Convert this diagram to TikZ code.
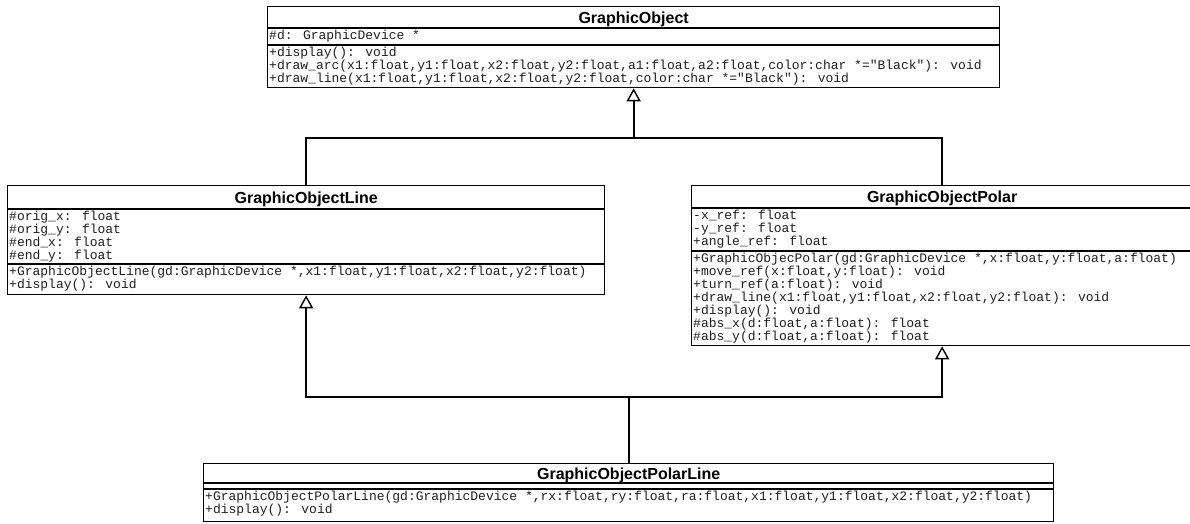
\documentclass[tikz,border=0pt]{standalone}
\usepackage{fontspec}
\setmainfont{Liberation Sans}
\newfontfamily\umlmono{Liberation Mono}
\usetikzlibrary{arrows.meta,calc}

\begin{document}
\begin{tikzpicture}[x=1pt,y=-1pt,
  classbox/.style={draw, line width=1.3pt, inner sep=0pt, anchor=north west, fill=white},
  sepline/.style={line width=1.3pt},
  member/.style={anchor=base west, inner sep=0pt, text=black!88, font={\umlmono\fontsize{13pt}{13pt}\selectfont}},
  classname/.style={anchor=base, inner sep=0pt, font={\bfseries\fontsize{16pt}{16pt}\selectfont}},
  wire/.style={line width=1.7pt},
  inherit/.style={line width=1.7pt, -{Triangle[length=13pt,width=14pt,fill=white,line width=1.4pt]}}
]
\path[use as bounding box, fill=white] (0,0) rectangle (1190,523);

% ---------- GraphicObject ----------
\node[classbox, minimum width=732pt, minimum height=81pt] (go) at (267,6) {};
\draw[sepline] ($(go.north west)+(0,22)$) -- ($(go.north east)+(0,22)$);
\draw[sepline] ($(go.north west)+(0,39)$) -- ($(go.north east)+(0,39)$);
\node[classname] (go-name) at ($(go.north)+(0,17)$) {GraphicObject};
\node[member] (go-a1) at ($(go.north west)+(2,33)$) {\#d: GraphicDevice *};
\node[member] (go-m1) at ($(go.north west)+(2,50)$) {+display(): void};
\node[member] (go-m2) at ($(go.north west)+(2,63)$) {+draw\_arc(x1:float,y1:float,x2:float,y2:float,a1:float,a2:float,color:char *="Black"): void};
\node[member] (go-m3) at ($(go.north west)+(2,76)$) {+draw\_line(x1:float,y1:float,x2:float,y2:float,color:char *="Black"): void};

% ---------- GraphicObjectLine ----------
\node[classbox, minimum width=597pt, minimum height=109pt] (gol) at (7,185) {};
\draw[sepline] ($(gol.north west)+(0,24)$) -- ($(gol.north east)+(0,24)$);
\draw[sepline] ($(gol.north west)+(0,79)$) -- ($(gol.north east)+(0,79)$);
\node[classname] (gol-name) at ($(gol.north)+(0,18)$) {GraphicObjectLine};
\node[member] (gol-a1) at ($(gol.north west)+(2,35)$) {\#orig\_x: float};
\node[member] (gol-a2) at ($(gol.north west)+(2,48)$) {\#orig\_y: float};
\node[member] (gol-a3) at ($(gol.north west)+(2,61)$) {\#end\_x: float};
\node[member] (gol-a4) at ($(gol.north west)+(2,74)$) {\#end\_y: float};
\node[member] (gol-m1) at ($(gol.north west)+(2,90)$) {+GraphicObjectLine(gd:GraphicDevice *,x1:float,y1:float,x2:float,y2:float)};
\node[member] (gol-m2) at ($(gol.north west)+(2,103)$) {+display(): void};

% ---------- GraphicObjectPolar ----------
\node[classbox, minimum width=501pt, minimum height=160pt] (gop) at (691,185) {};
\draw[sepline] ($(gop.north west)+(0,23)$) -- ($(gop.north east)+(0,23)$);
\draw[sepline] ($(gop.north west)+(0,66)$) -- ($(gop.north east)+(0,66)$);
\node[classname] (gop-name) at ($(gop.north)+(0,17.5)$) {GraphicObjectPolar};
\node[member] (gop-a1) at ($(gop.north west)+(2,34)$) {-x\_ref: float};
\node[member] (gop-a2) at ($(gop.north west)+(2,47)$) {-y\_ref: float};
\node[member] (gop-a3) at ($(gop.north west)+(2,60)$) {+angle\_ref: float};
\node[member] (gop-m1) at ($(gop.north west)+(2,77)$) {+GraphicObjecPolar(gd:GraphicDevice *,x:float,y:float,a:float)};
\node[member] (gop-m2) at ($(gop.north west)+(2,90)$) {+move\_ref(x:float,y:float): void};
\node[member] (gop-m3) at ($(gop.north west)+(2,103)$) {+turn\_ref(a:float): void};
\node[member] (gop-m4) at ($(gop.north west)+(2,116)$) {+draw\_line(x1:float,y1:float,x2:float,y2:float): void};
\node[member] (gop-m5) at ($(gop.north west)+(2,129)$) {+display(): void};
\node[member] (gop-m6) at ($(gop.north west)+(2,142)$) {\#abs\_x(d:float,a:float): float};
\node[member] (gop-m7) at ($(gop.north west)+(2,155)$) {\#abs\_y(d:float,a:float): float};

% ---------- GraphicObjectPolarLine ----------
\node[classbox, minimum width=850pt, minimum height=58pt] (gopl) at (203,463) {};
\draw[sepline] ($(gopl.north west)+(0,20)$) -- ($(gopl.north east)+(0,20)$);
\draw[sepline] ($(gopl.north west)+(0,26)$) -- ($(gopl.north east)+(0,26)$);
\node[classname] (gopl-name) at ($(gopl.north)+(0,16)$) {GraphicObjectPolarLine};
\node[member] (gopl-m1) at ($(gopl.north west)+(2,37)$) {+GraphicObjectPolarLine(gd:GraphicDevice *,rx:float,ry:float,ra:float,x1:float,y1:float,x2:float,y2:float)};
\node[member] (gopl-m2) at ($(gopl.north west)+(2,50)$) {+display(): void};

% ---------- generalisations ----------
\coordinate (topjoin) at ($(go.south)+(0,50)$);
\draw[wire] (gol.north) |- (topjoin);
\draw[wire] (gop.north) |- (topjoin);
\draw[inherit] (topjoin) -- (go.south);

\coordinate (botjoin) at ($(gopl.north)+(0,-66)$);
\draw[wire] (gopl.north) -- (botjoin);
\draw[inherit] (botjoin) -| (gol.south);
\draw[inherit] (botjoin) -| (gop.south);
\end{tikzpicture}
\end{document}
